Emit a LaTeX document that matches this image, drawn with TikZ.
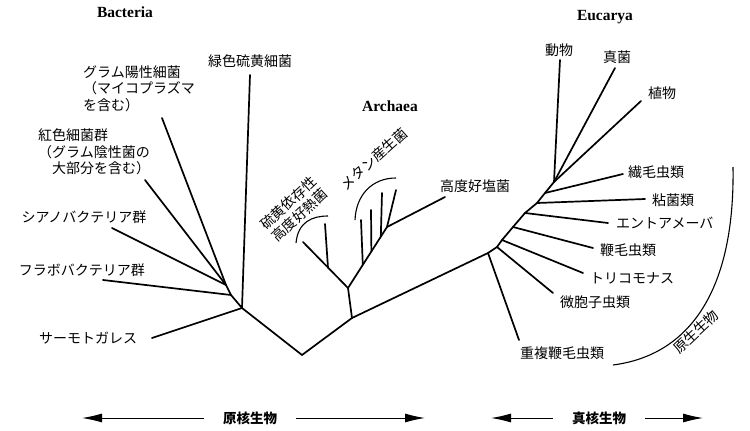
\documentclass[tikz,border=0pt]{standalone}
\usepackage{fontspec}
\newfontfamily\jp{Noto Sans CJK JP}
\newfontfamily\lat{Liberation Serif}
\usetikzlibrary{arrows.meta}
\begin{document}
\begin{tikzpicture}[x=1pt,y=-1pt,
  twig/.style={line width=1.7pt, line cap=round, line join=round},
  clade/.style={line width=1.1pt},
  lb/.style={font=\jp\fontsize{14}{16.5}\selectfont, inner sep=0pt},
  grp/.style={font=\lat\bfseries\fontsize{15.5}{17}\selectfont},
  dom/.style={font=\jp\bfseries\fontsize{13.5}{16}\selectfont, inner xsep=19pt, inner ysep=0pt},
  arr/.style={line width=1pt, -{Latex[length=20pt,width=9pt]}}]
\useasboundingbox (0,0) rectangle (750,431);

\node[grp] (bac) at (125,12) {Bacteria};
\node[grp] (arc) at (390,106) {Archaea};
\node[grp] (euc) at (605,17) {Eucarya};

\coordinate (r) at (302,355);
\coordinate (b1) at (242,308);
\coordinate (b2) at (231,295);
\coordinate (b3) at (226,285);
\coordinate (gs) at (250,75);
\coordinate (g) at (162,118);
\coordinate (p) at (145,180);
\coordinate (c) at (112,228);
\coordinate (f) at (103,280);
\coordinate (t) at (152,338);
\node[lb] (lgs) at (250,61) {緑色硫黄細菌};
\node[lb, anchor=west, align=left] (lg) at (83,88.5) {グラム陽性細菌\\（マイコプラズマ\\を含む）};
\node[lb, anchor=west, align=left] (lp) at (38,152) {紅色細菌群\\（グラム陰性菌の\\\hspace*{1em}大部分を含む）};
\node[lb] (lc) at (84,217) {シアノバクテリア群};
\node[lb] (lf) at (82,270) {フラボバクテリア群};
\node[lb] (lt) at (88,338) {サーモトガレス};
\draw[twig] (r) -- (b1) -- (b2) -- (b3);
\draw[twig] (b1) -- (gs);
\draw[twig] (b1) -- (t);
\draw[twig] (b2) -- (f);
\draw[twig] (b3) -- (c);
\draw[twig] (b3) -- (p);
\draw[twig] (b3) -- (g);

\coordinate (a1) at (352,318);
\coordinate (a2) at (348,288);
\coordinate (s0) at (303,242);
\coordinate (s1) at (328,267.6);
\coordinate (s1t) at (325,224);
\coordinate (m0) at (387,227);
\coordinate (m4) at (396,190);
\coordinate (v1) at (362.8,264.8);
\coordinate (v1t) at (361,220);
\coordinate (v2) at (371.4,251.4);
\coordinate (v2t) at (371,210);
\coordinate (v3) at (380.8,236.8);
\coordinate (v3t) at (382,193);
\coordinate (h) at (445,197);
\node[lb, anchor=west] (lh) at (440,186) {高度好塩菌};
\node[lb, rotate=43, align=center] (ls) at (294,209) {硫黄依存性\\高度好熱菌};
\node[lb, rotate=42] (lm) at (374,159) {メタン産生菌};
\draw[twig] (r) -- (a1) -- (a2) -- (s0);
\draw[twig] (s1) -- (s1t);
\draw[twig] (a2) -- (m0) -- (m4);
\draw[twig] (m0) -- (h);
\draw[twig] (v1) -- (v1t);
\draw[twig] (v2) -- (v2t);
\draw[twig] (v3) -- (v3t);
\draw[clade] (296,243) .. controls (298,222) and (312,216) .. (328,216);
\draw[clade] (355,220) .. controls (356,195) and (372,178) .. (396,178);

\coordinate (e1) at (488,253);
\coordinate (e2) at (497,247);
\coordinate (e3) at (502,240);
\coordinate (e4) at (513,227);
\coordinate (e5) at (525,213);
\coordinate (e6) at (537,203);
\coordinate (e7) at (545,193);
\coordinate (e8) at (554,182);
\coordinate (d1) at (519,340);
\coordinate (d2) at (553,293);
\coordinate (d3) at (583,273);
\coordinate (d4) at (593,248);
\coordinate (d5) at (608,223);
\coordinate (d6) at (645,199);
\coordinate (d7) at (623,174);
\coordinate (d8) at (641,101);
\coordinate (d9) at (615,68);
\coordinate (d10) at (560,60);
\node[lb] (lanim) at (559,50) {動物};
\node[lb] (lfung) at (617,57) {真菌};
\node[lb] (lplant) at (662,93) {植物};
\node[lb, anchor=west] (lcil) at (628,172) {繊毛虫類};
\node[lb, anchor=west] (lslime) at (652,200) {粘菌類};
\node[lb, anchor=west] (lent) at (616,223) {エントアメーバ};
\node[lb, anchor=west] (lflag) at (600,250) {鞭毛虫類};
\node[lb, anchor=west] (ltri) at (590,278) {トリコモナス};
\node[lb, anchor=west] (lmic) at (560,302) {微胞子虫類};
\node[lb, anchor=west] (ldip) at (520,353) {重複鞭毛虫類};
\node[lb, rotate=43] (lprot) at (696,332) {原生生物};
\draw[twig] (a1) -- (e1) -- (e2) -- (e3) -- (e4) -- (e5) -- (e6) -- (e7) -- (e8);
\draw[twig] (e1) -- (d1);
\draw[twig] (e2) -- (d2);
\draw[twig] (e3) -- (d3);
\draw[twig] (e4) -- (d4);
\draw[twig] (e5) -- (d5);
\draw[twig] (e6) -- (d6);
\draw[twig] (e7) -- (d7);
\draw[twig] (e8) -- (d8);
\draw[twig] (e8) -- (d9);
\draw[twig] (e8) -- (d10);
\draw[clade] (733,167) .. controls (735,290) and (690,355) .. (613,365);

\node[dom] (npro) at (250,418) {原核生物};
\node[dom] (neuk) at (599,418) {真核生物};
\coordinate (pl) at (82,418);
\coordinate (pr) at (425,418);
\coordinate (el) at (491,418);
\coordinate (er) at (703,418);
\draw[arr] (npro) -- (pl);
\draw[arr] (npro) -- (pr);
\draw[arr] (neuk) -- (el);
\draw[arr] (neuk) -- (er);
\end{tikzpicture}
\end{document}
